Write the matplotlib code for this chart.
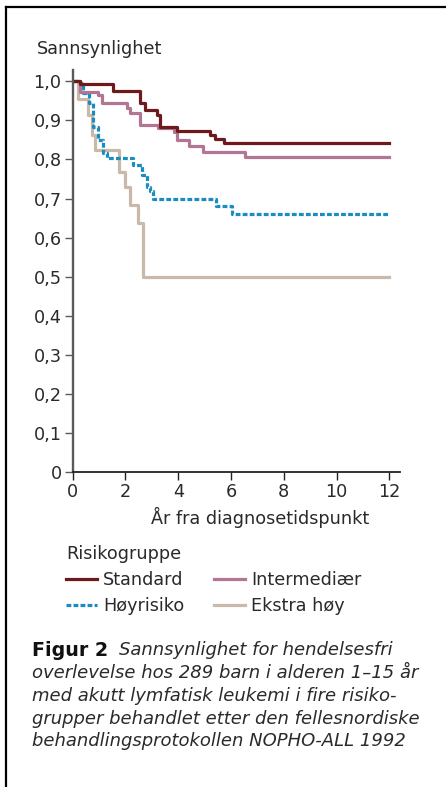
import matplotlib
matplotlib.use("Agg")
import matplotlib.pyplot as plt
from matplotlib.lines import Line2D

plt.rcParams['font.family'] = ['DejaVu Sans']

# Kaplan-Meier step curves (years, probability)
std_t = [0, 0.28, 1.54, 2.56, 2.74, 3.19, 3.31, 3.95, 5.22, 5.41, 5.74, 12]
std_p = [1.0, 0.993, 0.974, 0.945, 0.927, 0.914, 0.884, 0.874, 0.863, 0.852, 0.843, 0.843]

int_t = [0, 0.28, 0.97, 1.10, 2.05, 2.18, 2.56, 3.25, 3.82, 3.95, 4.39, 4.93, 6.54, 12]
int_p = [1.0, 0.973, 0.965, 0.945, 0.931, 0.918, 0.888, 0.880, 0.871, 0.850, 0.835, 0.820, 0.807, 0.807]

hoy_t = [0, 0.28, 0.40, 0.63, 0.78, 0.97, 1.16, 1.29, 2.30, 2.62, 2.81, 2.93, 3.06, 5.43, 6.03, 12]
hoy_p = [1.0, 0.995, 0.970, 0.944, 0.884, 0.850, 0.816, 0.803, 0.786, 0.760, 0.730, 0.718, 0.700, 0.681, 0.660, 0.660]

eks_t = [0, 0.19, 0.59, 0.72, 0.85, 1.77, 1.99, 2.18, 2.49, 2.68, 12]
eks_p = [1.0, 0.954, 0.914, 0.863, 0.824, 0.769, 0.730, 0.684, 0.637, 0.500, 0.500]

y_ticks = [0, 0.1, 0.2, 0.3, 0.4, 0.5, 0.6, 0.7, 0.8, 0.9, 1.0]
y_labels = ["0", "0,1", "0,2", "0,3", "0,4", "0,5", "0,6", "0,7", "0,8", "0,9", "1,0"]
x_ticks = [0, 2, 4, 6, 8, 10, 12]

W, H = 446, 787
fs = 12.7
txt = '#2a2a2a'
c_std, c_int, c_hoy, c_eks = '#6e1a1c', '#b27594', '#1a8cc0', '#c9b9aa'
dash = (0, (1.5, 0.7))

fig = plt.figure(figsize=(W / 100, H / 100), dpi=100)
ax = fig.add_axes([72.7 / W, 1 - 472 / H, (400 - 72.7) / W, (472 - 69.6) / H])

lw = 2.3
ax.plot(eks_t, eks_p, drawstyle='steps-post', color=c_eks, lw=lw)
ax.plot(hoy_t, hoy_p, drawstyle='steps-post', color=c_hoy, lw=lw, ls=dash)
ax.plot(int_t, int_p, drawstyle='steps-post', color=c_int, lw=lw)
ax.plot(std_t, std_p, drawstyle='steps-post', color=c_std, lw=lw)

ax.set_xlim(0, 12.4)
ax.set_ylim(0, 1.03)
ax.set_yticks(y_ticks)
ax.set_yticklabels(y_labels)
ax.set_xticks(x_ticks)
for s in ['top', 'right']:
    ax.spines[s].set_visible(False)
ax.spines['left'].set_color('#5a5a5a')
ax.spines['left'].set_linewidth(1.7)
ax.spines['bottom'].set_color('#222222')
ax.spines['bottom'].set_linewidth(1.3)
ax.tick_params(axis='both', labelsize=fs, labelcolor=txt, length=6, width=1.0, pad=2)
ax.tick_params(axis='y', color='#5a5a5a')
ax.tick_params(axis='x', color='#222222')
ax.set_xlabel("År fra diagnosetidspunkt", fontsize=fs, color=txt)
ax.xaxis.set_label_coords(0.572, -0.088)

fig.text(37 / W, 1 - 49 / H, "Sannsynlighet", fontsize=fs, color=txt, va='center', ha='left')

# legend
handles = [
    Line2D([], [], color=c_std, lw=lw),
    Line2D([], [], color=c_hoy, lw=lw, ls=dash),
    Line2D([], [], color=c_int, lw=lw),
    Line2D([], [], color=c_eks, lw=lw),
]
labels = ["Standard", "Høyrisiko", "Intermediær", "Ekstra høy"]
leg = fig.legend(handles, labels, ncol=2, loc='upper left', bbox_to_anchor=(66 / W, 1 - 545 / H),
                 frameon=False, fontsize=fs, title="Risikogruppe", title_fontsize=fs,
                 alignment='left', handlelength=1.76, handletextpad=0.34, columnspacing=1.7,
                 labelspacing=0.45, borderpad=0, borderaxespad=0)
for t in leg.get_texts():
    t.set_color(txt)
leg.get_title().set_color(txt)

# caption
fig.text(32 / W, 1 - 650 / H, "Figur 2", fontsize=13.7, fontweight='bold', color='#111111', va='center')
cap = ["Sannsynlighet for hendelsesfri",
       "overlevelse hos 289 barn i alderen 1–15 år",
       "med akutt lymfatisk leukemi i fire risiko-",
       "grupper behandlet etter den fellesnordiske",
       "behandlingsprotokollen NOPHO-ALL 1992"]
fig.text(119 / W, 1 - 650 / H, cap[0], fontsize=13, style='italic', color=txt, va='center')
for i, line in enumerate(cap[1:]):
    fig.text(32 / W, 1 - (673 + 22.8 * i) / H, line, fontsize=13, style='italic', color=txt, va='center')

# frame lines (top and left)
fig.add_artist(Line2D([6 / W, 6 / W], [0, 1 - 7 / H], color='black', lw=1.6))
fig.add_artist(Line2D([6 / W, 1], [1 - 7 / H, 1 - 7 / H], color='black', lw=1.6))

fig.savefig("out.png", dpi=100)
